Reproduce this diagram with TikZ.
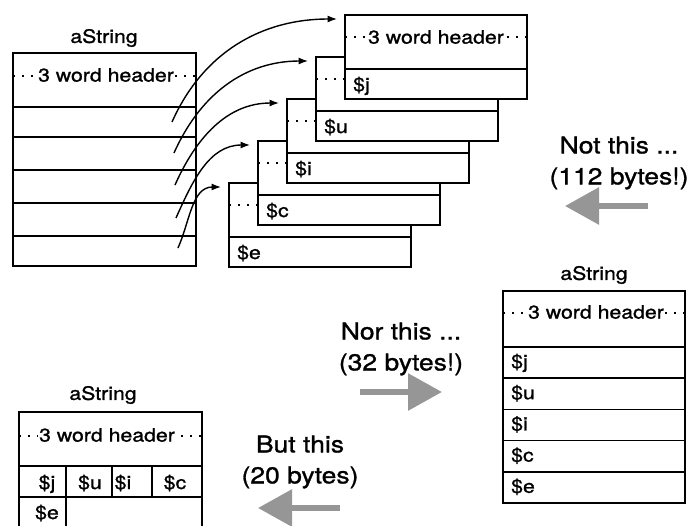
\documentclass[tikz,border=0pt]{standalone}
\usepackage{fontspec}
\setmainfont{TeX Gyre Heros}[FakeStretch=1.15,FakeBold=1.2]
\usetikzlibrary{arrows.meta,positioning}
\definecolor{arrowgray}{RGB}{150,150,150}

\begin{document}
\begin{tikzpicture}[x=1pt,y=-1pt,>=Latex,
    cellbox/.style={draw,line width=1.7pt,fill=white},
    divider/.style={line width=1.7pt},
    leader/.style={line width=1.4pt,dash pattern=on 2pt off 7pt},
    small/.style={font=\fontsize{18.5}{20}\selectfont,inner sep=0pt},
    hdtext/.style={small,fill=white,inner xsep=1pt,inner ysep=2pt},
    note/.style={font=\fontsize{23}{31}\selectfont,align=center,inner sep=0pt},
    pointer/.style={->,line width=1.4pt},
    bigarrow/.style={arrowgray,line width=6pt,-{Triangle[length=34pt,width=36pt]}}]
  \clip (0,0) rectangle (687,525);

  \foreach \k/\ch in {4/\$e,3/\$c,2/\$i,1/\$u,0/\$j}{
    \pgfmathsetmacro\bx{345-29*\k}
    \pgfmathsetmacro\by{15+42*\k}
    \draw[cellbox] (\bx,\by) rectangle ++(182,84);
    \draw[divider] (\bx,\by+54) -- ++(182,0);
    \draw[leader] (\bx,\by+22) -- ++(182,0);
    \node[small,anchor=base west] (obj\k) at (\bx+8,\by+76) {\ch};
    \coordinate (objin\k) at (\bx-8,\by+4);
  }
  \node[hdtext] (objhd) at (436,37) {3 word header};

  \node[small] (lefttitle) at (104,38) {aString};
  \draw[cellbox] (13,53) rectangle (196,266);
  \foreach \y in {107,137,170,203,236}
    \draw[divider] (13,\y) -- (196,\y);
  \draw[leader] (13,76) -- (196,76);
  \node[hdtext] (lefthd) at (106,75) {3 word header};
  \foreach \k/\x/\y in {0/172/122,1/174/153,2/175/185,3/176/218,4/178/248}
    \coordinate (slot\k) at (\x,\y);
  \foreach \k in {0,...,4}
    \draw[pointer] (slot\k) to[out=66,in=180] (objin\k);

  \node[note] (notthis) at (619,163) {Not this ...\\(112 bytes!)};
  \coordinate (notfrom) at (648,206);
  \coordinate (notto) at (565,206);
  \draw[bigarrow] (notfrom) -- (notto);

  \node[small] (righttitle) at (594,275) {aString};
  \draw[cellbox] (503,291) rectangle (685,503);
  \draw[leader] (503,313) -- (685,313);
  \node[hdtext] (righthd) at (596,312) {3 word header};
  \foreach \ch [count=\i] in {\$j,\$u,\$i,\$c,\$e}{
    \pgfmathsetmacro\ry{347+31.2*(\i-1)}
    \draw[divider] (503,\ry) -- (685,\ry);
    \node[small,anchor=base west] (rcell\i) at (511,\ry+21) {\ch};
  }

  \node[note] (northis) at (401,349) {Nor this ...\\(32 bytes!)};
  \coordinate (norfrom) at (360,392);
  \coordinate (norto) at (442,392);
  \draw[bigarrow] (norfrom) -- (norto);

  \node[small] (bottitle) at (103,395) {aString};
  \draw[cellbox] (19,412) rectangle (202,530);
  \draw[divider] (19,466) -- (202,466);
  \draw[divider] (19,497) -- (202,497);
  \draw[divider] (66,466) -- (66,530);
  \draw[divider] (112,466) -- (112,497);
  \draw[divider] (152,466) -- (152,497);
  \draw[leader] (19,436) -- (202,436);
  \node[hdtext] (bothd) at (107,435) {3 word header};
  \foreach \ch/\x [count=\i] in {\$j/47,\$u/90,\$i/123,\$c/175}
    \node[small,anchor=base] (bcell\i) at (\x,489) {\ch};
  \node[small,anchor=base] (bcell5) at (47,519) {\$e};

  \node[note] (butthis) at (300,462) {But this\\(20 bytes)};
  \coordinate (butfrom) at (340,508);
  \coordinate (butto) at (258,508);
  \draw[bigarrow] (butfrom) -- (butto);
\end{tikzpicture}
\end{document}
